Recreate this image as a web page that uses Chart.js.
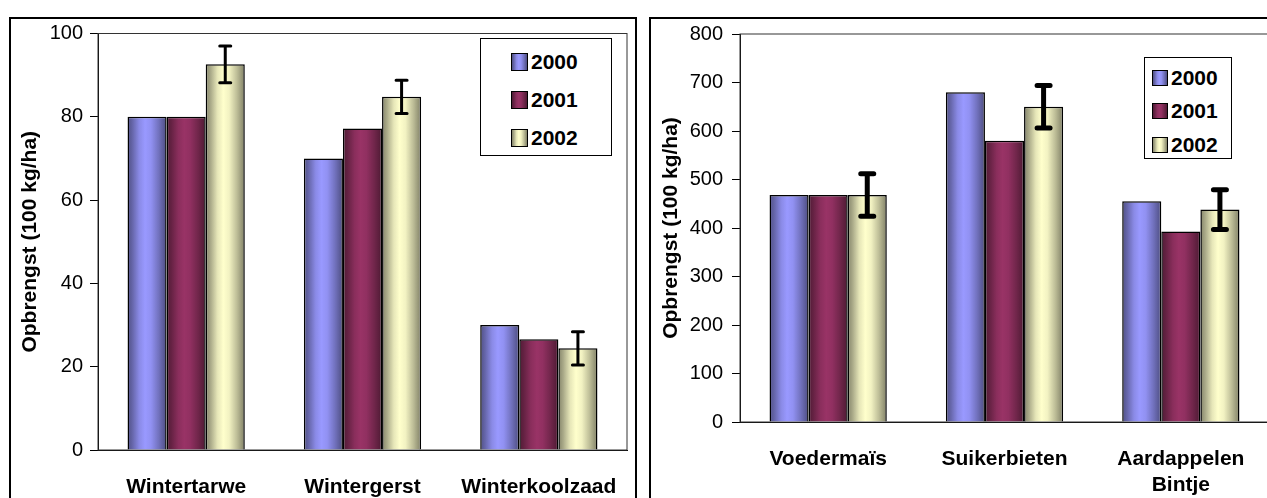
<!DOCTYPE html>
<html>
<head>
<meta charset="utf-8">
<script src="https://cdn.jsdelivr.net/npm/chart.js@4/dist/chart.umd.min.js"></script>
<style>
    html, body { margin: 0; padding: 0; background: #fff; }
    body { width: 1267px; height: 498px; overflow: hidden; position: relative; font-family: "Liberation Sans", Arial, sans-serif; }
    .frame { position: absolute; border: 2px solid #000; box-sizing: border-box; }
    canvas { position: absolute; }
    .legend { position: absolute; background: #fff; border: 1.5px solid #000; box-sizing: border-box; font-weight: bold; font-size: 21px; color: #000; }
    .legend .row { display: flex; align-items: center; }
    .legend .sw { border: 1.5px solid #000; box-sizing: border-box; margin-right: 3px; }
    #grainLegend { left: 480px; top: 38px; width: 132px; height: 118px; padding-top: 4px; }
    #grainLegend .row { height: 38px; padding-left: 30px; }
    #grainLegend .sw { width: 17px; height: 18px; }
    #rootLegend { left: 1144px; top: 57px; width: 88px; height: 102px; padding-top: 3px; }
    #rootLegend .row { height: 33.5px; padding-left: 7px; }
    #rootLegend .sw { width: 16px; height: 16px; }
</style>
</head>
<body>
<div class="frame" style="left:9px; top:17px; width:628px; height:520px;"></div>
<div class="frame" style="left:649px; top:17px; width:700px; height:520px;"></div>
<canvas id="grainChart" width="623" height="479" style="left:11px; top:19px; width:623px; height:479px;"></canvas>
<canvas id="rootChart" width="640" height="479" style="left:651px; top:19px; width:640px; height:479px;"></canvas>
<div class="legend" id="grainLegend"></div>
<div class="legend" id="rootLegend"></div>
<script>
// data
const YEARS = ["2000", "2001", "2002"];

const GRAIN_CROPS = ["Wintertarwe", "Wintergerst", "Winterkoolzaad"];
const GRAIN_2000 = [80, 70, 30];
const GRAIN_2001 = [80, 77.2, 26.6];
const GRAIN_2002 = [92.6, 84.8, 24.4];
const GRAIN_2002_ERR = [4.4, 4.0, 4.0];

const ROOT_CROPS = ["Voedermaïs", "Suikerbieten", ["Aardappelen", "Bintje"]];
const ROOT_2000 = [468, 680, 455];
const ROOT_2001 = [468, 580, 393];
const ROOT_2002 = [468, 650, 438];
const ROOT_2002_ERR = [44, 44, 41];

const FONT = "'Liberation Sans', Arial, sans-serif";
const BASE_RGB = [[153, 153, 255], [153, 51, 102], [255, 255, 204]];
const SHADE = [[0, 0.52], [0.12, 0.66], [0.3, 0.9], [0.45, 1], [0.6, 0.95], [0.8, 0.74], [1, 0.5]];
const CAT_PCT = 0.665;

function rgbStr(rgb, f) {
    return "rgb(" + rgb.map((c) => Math.round(c * f)).join(",") + ")";
}

function barFill(rgb) {
    return (ctx) => {
        const chart = ctx.chart;
        const xs = chart.scales.x;
        if (ctx.type !== "data" || !xs || !xs.width) return rgbStr(rgb, 1);
        const group = (xs.width / chart.data.labels.length) * CAT_PCT;
        const bw = group / chart.data.datasets.length;
        const left = xs.getPixelForValue(ctx.dataIndex) - group / 2 + ctx.datasetIndex * bw;
        const g = chart.ctx.createLinearGradient(left, 0, left + bw, 0);
        SHADE.forEach(([t, f]) => g.addColorStop(t, rgbStr(rgb, f)));
        return g;
    };
}

function cssFill(rgb) {
    return "linear-gradient(to right," + SHADE.map(([t, f]) => rgbStr(rgb, f) + " " + t * 100 + "%").join(",") + ")";
}

// error bars on top of the bars, from the dataset's own errors array
const errorBars = {
    id: "errorBars",
    afterDatasetsDraw(chart, args, opts) {
        const { ctx } = chart;
        const y = chart.scales.y;
        chart.data.datasets.forEach((ds, di) => {
            if (!ds.errors) return;
            chart.getDatasetMeta(di).data.forEach((bar, i) => {
                const e = ds.errors[i];
                if (e == null) return;
                const top = y.getPixelForValue(ds.data[i] + e);
                const bot = y.getPixelForValue(ds.data[i] - e);
                ctx.save();
                ctx.strokeStyle = "#000";
                ctx.lineWidth = opts.width;
                ctx.beginPath();
                ctx.moveTo(bar.x, top);
                ctx.lineTo(bar.x, bot);
                ctx.stroke();
                ctx.lineWidth = opts.capWidth;
                ctx.lineCap = "round";
                ctx.beginPath();
                ctx.moveTo(bar.x - opts.cap / 2, top);
                ctx.lineTo(bar.x + opts.cap / 2, top);
                ctx.moveTo(bar.x - opts.cap / 2, bot);
                ctx.lineTo(bar.x + opts.cap / 2, bot);
                ctx.stroke();
                ctx.restore();
            });
        });
    },
};

// thin frame round the plot area (top and right edges)
const plotFrame = {
    id: "plotFrame",
    beforeDatasetsDraw(chart) {
        const { ctx, chartArea: a } = chart;
        ctx.save();
        ctx.strokeStyle = "#333";
        ctx.lineWidth = 1;
        ctx.strokeRect(a.left, a.top, a.right - a.left, a.bottom - a.top);
        ctx.restore();
    },
};

function makeDatasets(series, errors) {
    return series.map((data, i) => ({
        label: YEARS[i],
        data: data,
        errors: i === 2 ? errors : null,
        backgroundColor: barFill(BASE_RGB[i]),
        borderColor: "#000",
        borderWidth: 1.5,
        categoryPercentage: CAT_PCT,
        barPercentage: 1,
    }));
}

function makeConfig(labels, datasets, o) {
    return {
        type: "bar",
        data: { labels: labels, datasets: datasets },
        options: {
            responsive: false,
            animation: false,
            layout: { padding: { left: 0, top: o.padTop, right: o.padRight, bottom: 0 } },
            plugins: {
                legend: { display: false },
                tooltip: { enabled: false },
                errorBars: o.errorBars,
            },
            scales: {
                x: {
                    grid: { display: false, drawTicks: false },
                    border: { color: "#000", width: 1 },
                    ticks: {
                        color: "#000",
                        autoSkip: false,
                        maxRotation: 0,
                        padding: o.xPad,
                        font: { family: FONT, size: 21, weight: "bold", lineHeight: 1.25 },
                    },
                    afterFit: (scale) => {
                        scale.height = o.xHeight;
                        scale.paddingLeft = 0;
                        scale.paddingRight = 0;
                    },
                },
                y: {
                    min: 0,
                    max: o.max,
                    ticks: { stepSize: o.step, color: "#000", padding: o.tickPad, font: { family: FONT, size: 20 } },
                    grid: { drawOnChartArea: false, drawTicks: true, tickLength: 8, color: "#000" },
                    border: { color: "#000", width: 1 },
                    title: {
                        display: true,
                        text: "Opbrengst (100 kg/ha)",
                        color: "#000",
                        font: { family: FONT, size: 21, weight: "bold" },
                        padding: { top: o.titlePad, bottom: 0 },
                    },
                    afterFit: (scale) => {
                        scale.width = o.yWidth;
                        scale.paddingTop = 0;
                        scale.paddingBottom = 0;
                    },
                },
            },
        },
        plugins: [plotFrame, errorBars],
    };
}

function buildLegend(chart, el) {
    chart.data.datasets.forEach((ds, i) => {
        const row = document.createElement("div");
        row.className = "row";
        const sw = document.createElement("span");
        sw.className = "sw";
        sw.style.background = cssFill(BASE_RGB[i]);
        row.appendChild(sw);
        row.appendChild(document.createTextNode(ds.label));
        el.appendChild(row);
    });
}

let grainChart = new Chart(document.getElementById("grainChart"), makeConfig(
    GRAIN_CROPS,
    makeDatasets([GRAIN_2000, GRAIN_2001, GRAIN_2002], GRAIN_2002_ERR),
    { padTop: 14.5, padRight: 7, xHeight: 48, xPad: 24, max: 100, step: 20, tickPad: 7, titlePad: 7, yWidth: 87,
      errorBars: { width: 3, cap: 11, capWidth: 3 } }
));

let rootChart = new Chart(document.getElementById("rootChart"), makeConfig(
    ROOT_CROPS,
    makeDatasets([ROOT_2000, ROOT_2001, ROOT_2002], ROOT_2002_ERR),
    { padTop: 15, padRight: 22, xHeight: 76, xPad: 24, max: 800, step: 100, tickPad: 9, titlePad: 8, yWidth: 89,
      errorBars: { width: 5, cap: 13, capWidth: 5 } }
));

buildLegend(grainChart, document.getElementById("grainLegend"));
buildLegend(rootChart, document.getElementById("rootLegend"));
</script>
</body>
</html>
